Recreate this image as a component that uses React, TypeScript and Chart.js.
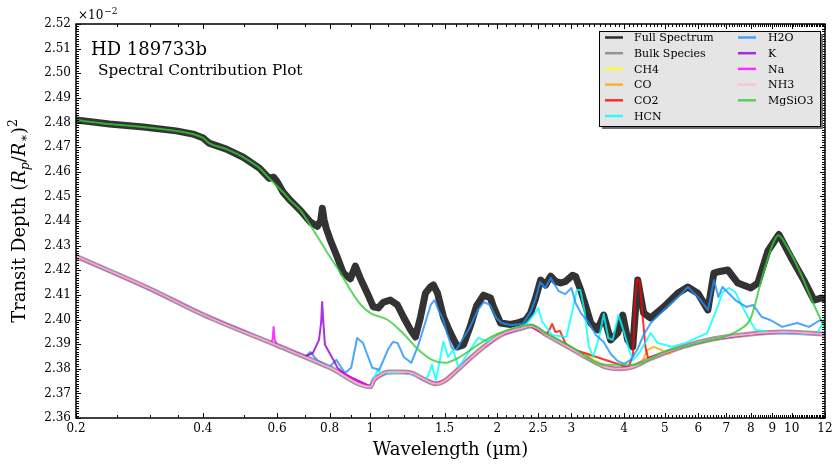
import { useEffect, useRef } from "react";
import { Chart, registerables } from "chart.js";

Chart.register(...registerables);

// ---------- tick labels ----------
const xTickValues = [0.2, 0.4, 0.6, 0.8, 1, 1.5, 2, 2.5, 3, 4, 5, 6, 7, 8, 9, 10, 12];
const xTickLabels = ["0.2", "0.4", "0.6", "0.8", "1", "1.5", "2", "2.5", "3", "4", "5", "6", "7", "8", "9", "10", "12"];
const yTickValues = [2.36, 2.37, 2.38, 2.39, 2.4, 2.41, 2.42, 2.43, 2.44, 2.45, 2.46, 2.47, 2.48, 2.49, 2.5, 2.51, 2.52];
const yTickLabels = ["2.36", "2.37", "2.38", "2.39", "2.40", "2.41", "2.42", "2.43", "2.44", "2.45", "2.46", "2.47", "2.48", "2.49", "2.50", "2.51", "2.52"];

// ---------- series ----------
const fullWave = [0.2, 0.24, 0.289, 0.346, 0.379, 0.401, 0.414, 0.455, 0.499, 0.545, 0.575, 0.589, 0.6, 0.621, 0.645, 0.682, 0.72, 0.748, 0.762, 0.769, 0.776, 0.785, 0.803, 0.834, 0.862, 0.896, 0.921, 0.946, 0.983, 1.016, 1.044, 1.073, 1.115, 1.159, 1.198, 1.245, 1.279, 1.315, 1.351, 1.388, 1.411, 1.443, 1.491, 1.549, 1.609, 1.663, 1.728, 1.786, 1.856, 1.928, 1.96, 2.036, 2.151, 2.234, 2.336, 2.4, 2.467, 2.535, 2.605, 2.678, 2.752, 2.829, 2.907, 3.02, 3.07, 3.156, 3.244, 3.334, 3.463, 3.578, 3.718, 3.864, 3.972, 4.082, 4.196, 4.312, 4.454, 4.628, 4.97, 5.366, 5.669, 5.988, 6.325, 6.535, 6.75, 7.054, 7.453, 8.0, 8.313, 8.782, 9.326, 9.96, 10.69, 11.3, 11.74, 12.0];
const fullDepth = [2.481, 2.4794, 2.4782, 2.4766, 2.4753, 2.4737, 2.4716, 2.4692, 2.4659, 2.4615, 2.4573, 2.4578, 2.4561, 2.4516, 2.4484, 2.4443, 2.4396, 2.4378, 2.4401, 2.4452, 2.4406, 2.4371, 2.4323, 2.4254, 2.4189, 2.4165, 2.4217, 2.4168, 2.4107, 2.4051, 2.4047, 2.407, 2.4079, 2.4059, 2.401, 2.3958, 2.3929, 2.401, 2.4107, 2.4132, 2.414, 2.4107, 2.401, 2.3945, 2.3889, 2.3897, 2.3975, 2.4055, 2.4099, 2.4087, 2.4051, 2.3986, 2.398, 2.3986, 2.3998, 2.4026, 2.4087, 2.416, 2.414, 2.4176, 2.4155, 2.4148, 2.4155, 2.418, 2.4175, 2.412, 2.4055, 2.3986, 2.3958, 2.4018, 2.3917, 2.3945, 2.4018, 2.3917, 2.3889, 2.416, 2.4026, 2.4006, 2.4051, 2.4107, 2.4132, 2.4107, 2.4039, 2.4188, 2.4195, 2.4201, 2.4148, 2.4128, 2.4148, 2.4278, 2.4345, 2.4253, 2.416, 2.4079, 2.4087, 2.4085];

const bulkWave = [0.2, 0.3, 0.4, 0.6, 0.8, 1.0, 1.02, 1.05, 1.1, 1.2, 1.25, 1.35, 1.43, 1.5, 1.6, 1.73, 1.86, 2.04, 2.3, 2.4, 2.6, 3.0, 3.3, 3.6, 3.9, 4.2, 4.6, 5.5, 6.5, 8.0, 9.5, 12.0];
const bulkDepth = [2.4257, 2.4124, 2.402, 2.3895, 2.3805, 2.3727, 2.3755, 2.3771, 2.3787, 2.3787, 2.3783, 2.3755, 2.3739, 2.3751, 2.3791, 2.3844, 2.3889, 2.3937, 2.3966, 2.3974, 2.3941, 2.3881, 2.384, 2.3808, 2.38, 2.3808, 2.384, 2.3889, 2.3921, 2.3941, 2.3949, 2.3941];

const ch4Wave = [3.2, 3.3, 3.4];
const ch4Depth = [2.3852, 2.3863, 2.3835];

const coWave = [4.4, 4.55, 4.7, 4.9, 5.1, 5.5];
const coDepth = [2.3825, 2.3877, 2.3889, 2.3877, 2.386, 2.3889];

const co2Wave = [2.5, 2.62, 2.66, 2.7, 2.75, 2.82, 2.9, 3.0, 4.1, 4.2, 4.25, 4.3, 4.36, 4.42, 4.5, 4.56, 4.7];
const co2Depth = [2.3955, 2.394, 2.3958, 2.3982, 2.3949, 2.3953, 2.3905, 2.3881, 2.3805, 2.3855, 2.4079, 2.4164, 2.4152, 2.4026, 2.3885, 2.3844, 2.385];

const hcnWave = [1.0, 1.04, 1.07, 1.2, 1.36, 1.4, 1.43, 1.49, 1.53, 1.57, 1.62, 1.8, 1.9, 2.04, 2.3, 2.47, 2.5, 2.56, 2.7, 2.92, 3.02, 3.09, 3.15, 3.22, 3.3, 3.38, 3.5, 3.58, 3.67, 3.76, 3.88, 4.0, 4.1, 4.2, 4.35, 4.63, 4.8, 5.2, 5.6, 6.3, 6.7, 6.85, 7.1, 7.35, 7.6, 7.9, 8.2, 9.0, 11.5, 12.0];
const hcnDepth = [2.3727, 2.3795, 2.3777, 2.3787, 2.3757, 2.3816, 2.3753, 2.3909, 2.3848, 2.3877, 2.3805, 2.3925, 2.391, 2.3937, 2.3966, 2.403, 2.4047, 2.399, 2.3937, 2.3929, 2.4039, 2.412, 2.412, 2.4039, 2.3889, 2.3848, 2.3937, 2.4022, 2.3925, 2.3917, 2.4018, 2.3949, 2.3885, 2.3835, 2.3865, 2.3945, 2.3905, 2.3889, 2.3905, 2.3945, 2.4059, 2.4111, 2.4128, 2.4111, 2.4059, 2.4006, 2.3958, 2.3945, 2.3941, 2.4006];

const h2oWave = [0.7, 0.72, 0.75, 0.8, 0.83, 0.87, 0.9, 0.93, 0.96, 0.98, 1.01, 1.05, 1.1, 1.13, 1.16, 1.2, 1.25, 1.3, 1.36, 1.39, 1.42, 1.45, 1.49, 1.52, 1.56, 1.6, 1.65, 1.72, 1.8, 1.86, 1.92, 1.99, 2.05, 2.15, 2.3, 2.4, 2.47, 2.53, 2.6, 2.68, 2.8, 2.9, 3.0, 3.07, 3.16, 3.3, 3.43, 3.58, 3.72, 3.86, 4.0, 4.15, 4.3, 4.45, 4.63, 4.97, 5.37, 5.67, 6.0, 6.33, 6.54, 6.7, 6.85, 7.35, 7.8, 8.1, 8.5, 8.9, 9.5, 10.3, 11.0, 11.7, 12.0];
const h2oDepth = [2.3848, 2.3868, 2.3832, 2.3808, 2.3836, 2.3783, 2.3804, 2.3925, 2.3905, 2.3864, 2.3804, 2.3796, 2.3877, 2.3909, 2.3905, 2.3848, 2.3824, 2.3897, 2.4006, 2.4059, 2.4079, 2.4039, 2.3998, 2.3945, 2.3885, 2.3877, 2.3917, 2.3966, 2.4039, 2.4071, 2.4059, 2.4006, 2.3986, 2.3978, 2.3982, 2.403, 2.4087, 2.4152, 2.4128, 2.4168, 2.4115, 2.4103, 2.4128, 2.4067, 2.4026, 2.3986, 2.3937, 2.3909, 2.386, 2.3832, 2.382, 2.3836, 2.3877, 2.3937, 2.3986, 2.4039, 2.4091, 2.4132, 2.4091, 2.4039, 2.416, 2.4091, 2.4132, 2.4079, 2.4051, 2.4059, 2.401, 2.3998, 2.397, 2.3986, 2.397, 2.3998, 2.3986];

const kWave = [0.7, 0.73, 0.755, 0.764, 0.768, 0.773, 0.78, 0.817, 0.835, 0.87, 0.9];
const kDepth = [2.385, 2.3864, 2.3917, 2.399, 2.4071, 2.399, 2.3897, 2.3836, 2.3804, 2.3779, 2.3763];

const naWave = [0.58, 0.586, 0.589, 0.592, 0.6];
const naDepth = [2.3905, 2.392, 2.397, 2.392, 2.3897];

const mgsio3Wave = [0.2, 0.24, 0.289, 0.346, 0.379, 0.401, 0.414, 0.455, 0.499, 0.545, 0.575, 0.621, 0.645, 0.682, 0.704, 0.75, 0.8, 0.85, 0.9, 0.95, 1.0, 1.1, 1.2, 1.3, 1.4, 1.5, 1.6, 1.8, 2.0, 2.4, 2.6, 3.0, 3.6, 4.2, 5.0, 6.0, 7.0, 7.5, 8.0, 8.5, 9.0, 9.3, 9.7, 10.5, 11.3, 12.0];
const mgsio3Depth = [2.481, 2.4794, 2.4782, 2.4766, 2.4753, 2.4737, 2.4716, 2.4692, 2.4659, 2.4615, 2.4573, 2.4516, 2.4484, 2.4443, 2.4409, 2.4334, 2.4257, 2.4188, 2.4115, 2.4059, 2.4026, 2.3998, 2.3941, 2.3877, 2.3836, 2.3824, 2.384, 2.3897, 2.3941, 2.3978, 2.3945, 2.3889, 2.3816, 2.3816, 2.3868, 2.3905, 2.3933, 2.3958, 2.4006, 2.4168, 2.4302, 2.4342, 2.4302, 2.4188, 2.4059, 2.3965];

const seriesNames = ["Full Spectrum", "Bulk Species", "CH4", "CO", "CO2", "HCN", "H2O", "K", "Na", "NH3", "MgSiO3"];
const seriesColors = [
  "rgba(0,0,0,0.8)",
  "rgba(128,128,128,0.8)",
  "rgba(255,255,0,0.8)",
  "rgba(255,165,0,0.8)",
  "rgba(255,0,0,0.8)",
  "rgba(0,255,255,0.8)",
  "rgba(30,144,255,0.8)",
  "rgba(148,0,211,0.8)",
  "rgba(255,0,255,0.8)",
  "rgba(255,192,203,0.85)",
  "rgba(50,205,50,0.8)",
];
const seriesWidths = [7, 5, 2, 2, 2, 2, 2, 2, 2, 2, 2];

type Pt = { x: number; y: number };
const pts = (w: number[], d: number[]): Pt[] => w.map((x, i) => ({ x, y: d[i] }));
const onBulk = (w: number[], d: number[]): Pt[] => {
  const lo = w[0];
  const hi = w[w.length - 1];
  const base = pts(bulkWave, bulkDepth).filter((p) => p.x < lo || p.x > hi);
  return base.concat(pts(w, d)).sort((a, b) => a.x - b.x);
};

const FONT = "'DejaVu Serif', 'Liberation Serif', serif";

const decorPlugin = {
  id: "decor",
  afterDraw(chart: any) {
    const ctx: CanvasRenderingContext2D = chart.ctx;
    const a = chart.chartArea;
    const xs = chart.scales.x;
    const ys = chart.scales.y;
    ctx.save();
    ctx.strokeStyle = "#000";
    // ticks
    const xMinor: number[] = [0.25, 0.3, 0.35, 0.5, 0.7, 0.9];
    for (let k = 11; k < 120; k++) {
      const v = k / 10;
      if (!xTickValues.some((t) => Math.abs(t - v) < 1e-6)) xMinor.push(v);
    }
    const yMinor: number[] = [];
    for (let k = 0; k <= 160; k++) if (k % 10 !== 0) yMinor.push(2.36 + k * 0.001);
    ctx.lineWidth = 1;
    const xt = (v: number, len: number) => {
      const px = Math.round(xs.getPixelForValue(v)) + 0.5;
      ctx.beginPath();
      ctx.moveTo(px, a.bottom);
      ctx.lineTo(px, a.bottom - len);
      ctx.moveTo(px, a.top);
      ctx.lineTo(px, a.top + len);
      ctx.stroke();
    };
    const yt = (v: number, len: number) => {
      const py = Math.round(ys.getPixelForValue(v)) + 0.5;
      ctx.beginPath();
      ctx.moveTo(a.left, py);
      ctx.lineTo(a.left + len, py);
      ctx.moveTo(a.right, py);
      ctx.lineTo(a.right - len, py);
      ctx.stroke();
    };
    xTickValues.forEach((v) => xt(v, 5));
    xMinor.forEach((v) => xt(v, 3));
    yTickValues.forEach((v) => yt(v, 5));
    yMinor.forEach((v) => yt(v, 3));
    // frame
    ctx.lineWidth = 1.5;
    ctx.strokeRect(a.left, a.top, a.right - a.left, a.bottom - a.top);

    // texts
    ctx.fillStyle = "#000";
    ctx.textAlign = "left";
    ctx.textBaseline = "alphabetic";
    ctx.font = `18px ${FONT}`;
    ctx.fillText("HD 189733b", 91, 55);
    ctx.font = `15.3px ${FONT}`;
    ctx.fillText("Spectral Contribution Plot", 98, 75);
    ctx.font = `12px ${FONT}`;
    ctx.fillText("×10", 78, 19);
    const w10 = ctx.measureText("×10").width;
    ctx.font = `9px ${FONT}`;
    ctx.fillText("−2", 78 + w10 + 1, 14);

    // x title
    ctx.font = `18px ${FONT}`;
    ctx.textAlign = "center";
    ctx.fillText("Wavelength (µm)", (a.left + a.right) / 2, 455);

    // y title
    ctx.save();
    ctx.translate(25, (a.top + a.bottom) / 2);
    ctx.rotate(-Math.PI / 2);
    ctx.textAlign = "left";
    const pieces = [
      { t: "Transit Depth ", f: `18px ${FONT}`, dy: 0 },
      { t: "(", f: `18px ${FONT}`, dy: 0 },
      { t: "R", f: `italic 18px ${FONT}`, dy: 0 },
      { t: "p", f: `italic 12.5px ${FONT}`, dy: 3.5 },
      { t: "/", f: `18px ${FONT}`, dy: 0 },
      { t: "R", f: `italic 18px ${FONT}`, dy: 0 },
      { t: "∗", f: `12.5px ${FONT}`, dy: 3 },
      { t: ")", f: `18px ${FONT}`, dy: 0 },
      { t: "2", f: `12.5px ${FONT}`, dy: -8 },
    ];
    let total = 0;
    const widths = pieces.map((p) => {
      ctx.font = p.f;
      const w = ctx.measureText(p.t).width;
      total += w;
      return w;
    });
    let cx = -total / 2;
    pieces.forEach((p, i) => {
      ctx.font = p.f;
      ctx.fillText(p.t, cx, p.dy);
      cx += widths[i];
    });
    ctx.restore();

    // legend
    const lx = 599, ly = 31, lw = 221, lh = 95;
    ctx.fillStyle = "#6e6e6e";
    ctx.fillRect(lx + 3, ly + 3, lw, lh);
    ctx.fillStyle = "#e5e5e5";
    ctx.fillRect(lx, ly, lw, lh);
    ctx.lineWidth = 1;
    ctx.strokeStyle = "#000";
    ctx.strokeRect(lx + 0.5, ly + 0.5, lw, lh);
    ctx.font = `11px ${FONT}`;
    ctx.textAlign = "left";
    ctx.textBaseline = "middle";
    seriesNames.forEach((name, i) => {
      const col = i < 6 ? 0 : 1;
      const row = i < 6 ? i : i - 6;
      const y = 37.5 + row * 15.7;
      const x0 = col === 0 ? 605 : 738;
      const tx = col === 0 ? 634 : 768;
      ctx.strokeStyle = seriesColors[i];
      ctx.lineWidth = 2.5;
      ctx.beginPath();
      ctx.moveTo(x0, y);
      ctx.lineTo(x0 + 18, y);
      ctx.stroke();
      ctx.fillStyle = "#000";
      ctx.fillText(name, tx, y + 1);
    });
    ctx.restore();
  },
};

export default function App() {
  const ref = useRef<HTMLCanvasElement | null>(null);
  useEffect(() => {
    if (!ref.current) return;
    const dataSets = [
      pts(fullWave, fullDepth),
      pts(bulkWave, bulkDepth),
      onBulk(ch4Wave, ch4Depth),
      onBulk(coWave, coDepth),
      onBulk(co2Wave, co2Depth),
      onBulk(hcnWave, hcnDepth),
      onBulk(h2oWave, h2oDepth),
      onBulk(kWave, kDepth),
      onBulk(naWave, naDepth),
      pts(bulkWave, bulkDepth),
      pts(mgsio3Wave, mgsio3Depth),
    ];
    const smooth = [false, true, false, false, false, false, false, false, false, true, true];
    const chart = new Chart(ref.current, {
      type: "line",
      data: {
        datasets: dataSets.map((d, i) => ({
          label: seriesNames[i],
          data: d,
          borderColor: seriesColors[i],
          borderWidth: seriesWidths[i],
          pointRadius: 0,
          fill: false,
          tension: 0,
          cubicInterpolationMode: smooth[i] ? "monotone" : "default",
          borderJoinStyle: "round",
          borderCapStyle: "round",
          order: -i,
          clip: 0,
        })) as any,
      },
      options: {
        animation: false,
        responsive: false,
        devicePixelRatio: 1,
        layout: { padding: { top: 24, right: 15, bottom: 0, left: 0 } },
        plugins: { legend: { display: false }, tooltip: { enabled: false }, title: { display: false } },
        scales: {
          x: {
            type: "logarithmic",
            min: 0.2,
            max: 12,
            grid: { display: false, drawTicks: false },
            border: { display: false },
            afterBuildTicks: (s: any) => {
              s.ticks = xTickValues.map((v) => ({ value: v }));
            },
            afterFit: (s: any) => {
              s.height = 49;
            },
            ticks: {
              autoSkip: false,
              maxRotation: 0,
              minRotation: 0,
              padding: 4,
              color: "#000",
              font: { family: FONT, size: 12 },
              callback: (v: any) => {
                const i = xTickValues.findIndex((t) => Math.abs(t - Number(v)) < 1e-9);
                return i >= 0 ? xTickLabels[i] : "";
              },
            },
          },
          y: {
            type: "linear",
            min: 2.36,
            max: 2.52,
            grid: { display: false, drawTicks: false },
            border: { display: false },
            afterBuildTicks: (s: any) => {
              s.ticks = yTickValues.map((v) => ({ value: v }));
            },
            afterFit: (s: any) => {
              s.width = 76;
            },
            ticks: {
              autoSkip: false,
              padding: 5,
              color: "#000",
              font: { family: FONT, size: 12 },
              callback: (v: any) => {
                const i = yTickValues.findIndex((t) => Math.abs(t - Number(v)) < 1e-9);
                return i >= 0 ? yTickLabels[i] : "";
              },
            },
          },
        },
      },
      plugins: [decorPlugin],
    });
    return () => chart.destroy();
  }, []);
  return (
    <div style={{ position: "fixed", left: 0, top: 0, width: 840, height: 467, background: "#fff" }}>
      <canvas ref={ref} width={840} height={467} />
    </div>
  );
}
